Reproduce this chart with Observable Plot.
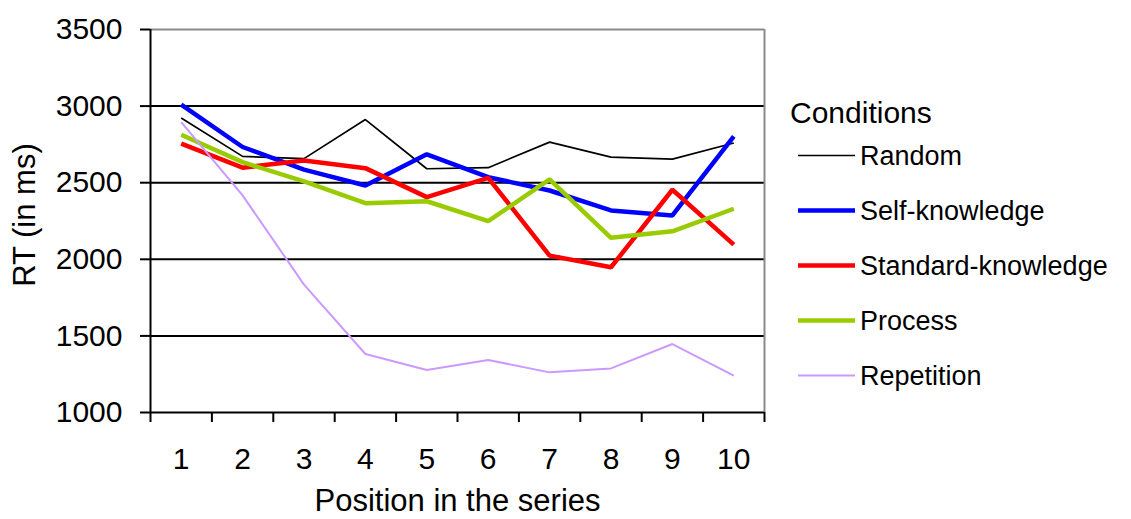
<!DOCTYPE html>
<html>
<head>
<meta charset="utf-8">
<script src="https://cdn.jsdelivr.net/npm/d3@7"></script>
<script src="https://cdn.jsdelivr.net/npm/@observablehq/plot@0.6"></script>
<style>
  body { margin: 0; background: #fff; }
  svg { display: block; }
</style>
</head>
<body>
<div id="chart"></div>
<script>
// Mean reaction time per position in the series, for each condition
const positions = [1, 2, 3, 4, 5, 6, 7, 8, 9, 10];
const conditions = ["Random", "Self-knowledge", "Standard-knowledge", "Process", "Repetition"];
const random            = [2922, 2672, 2657, 2912, 2591, 2598, 2765, 2667, 2654, 2759];
const selfKnowledge     = [3010, 2733, 2585, 2482, 2685, 2536, 2449, 2319, 2286, 2802];
const standardKnowledge = [2755, 2598, 2645, 2595, 2406, 2532, 2024, 1948, 2454, 2096];
const processRT         = [2813, 2634, 2508, 2366, 2379, 2249, 2521, 2140, 2183, 2330];
const repetition        = [2896, 2417, 1835, 1382, 1277, 1343, 1262, 1288, 1447, 1240];
const yTicks = [1000, 1500, 2000, 2500, 3000, 3500];
const gridValues = [1500, 2000, 2500, 3000];

const seriesValues = [random, selfKnowledge, standardKnowledge, processRT, repetition];
const colors = ["#000000", "#0000ff", "#ff0000", "#99cc00", "#cc99ff"];
const widths = [1.7, 4.5, 4.5, 4.5, 2];

const rows = conditions.flatMap((condition, i) =>
  positions.map((position, j) => ({condition, position, rt: seriesValues[i][j]}))
);

const font = "'Liberation Sans', Arial, Helvetica, sans-serif";

const chart = Plot.plot({
  width: 1131,
  height: 519,
  marginLeft: 150,
  marginRight: 367,
  marginTop: 29,
  marginBottom: 107,
  style: {fontFamily: font, background: "#fff", color: "#000", overflow: "visible"},
  x: {domain: [0.5, 10.5]},
  y: {domain: [1000, 3500]},
  marks: [
    // gridlines and plot-area border
    Plot.ruleY(gridValues, {stroke: "#000", strokeWidth: 2}),
    Plot.ruleY([3500], {stroke: "#8a8a8a", strokeWidth: 2}),
    Plot.ruleX([10.5], {stroke: "#8a8a8a", strokeWidth: 2}),
    // axis lines
    Plot.ruleX([0.5], {y1: 1000, y2: 3500, stroke: "#000", strokeWidth: 2}),
    Plot.ruleY([1000], {stroke: "#000", strokeWidth: 2}),
    Plot.axisY({ticks: yTicks, tickSize: 10, tickPadding: 18, strokeWidth: 2, fontSize: 30,
                tickFormat: d => String(d), label: null}),
    // category boundary ticks along the bottom
    Plot.axisX({ticks: d3.range(0.5, 11, 1), tickSize: 10, strokeWidth: 2, fill: "none", label: null}),
    // category labels
    Plot.axisX({ticks: positions, tickSize: 0, tickPadding: 35, fontSize: 30,
                tickFormat: d => String(d), label: null}),
    // series
    ...conditions.map((c, i) => Plot.line(rows.filter(r => r.condition === c), {
      x: "position", y: "rt", stroke: colors[i], strokeWidth: widths[i],
      strokeLinejoin: "miter", strokeLinecap: "butt"
    })),
    // axis titles
    Plot.text(["RT (in ms)"], {text: d => d, frameAnchor: "left", textAnchor: "middle", rotate: -90,
                               dx: -125, dy: -6, fontSize: 31, lineAnchor: "middle"}),
    Plot.text(["Position in the series"], {text: d => d, frameAnchor: "bottom", textAnchor: "middle",
                                           dy: 89, fontSize: 31, lineAnchor: "middle"})
  ]
});

// legend to the right of the plot
const svg = d3.select(chart);
const legend = svg.append("g")
  .attr("font-family", font)
  .attr("fill", "#000")
  .attr("text-anchor", "start");
legend.append("text").attr("x", 790).attr("y", 123).attr("font-size", 30).text("Conditions");
conditions.forEach((c, i) => {
  const y = 155.5 + i * 55;
  legend.append("line")
    .attr("x1", 798).attr("x2", 855).attr("y1", y).attr("y2", y)
    .attr("stroke", colors[i]).attr("stroke-width", widths[i]);
  legend.append("text")
    .attr("x", 860).attr("y", y).attr("dy", "0.35em").attr("font-size", 27).text(c);
});

document.getElementById("chart").append(chart);
</script>
</body>
</html>
